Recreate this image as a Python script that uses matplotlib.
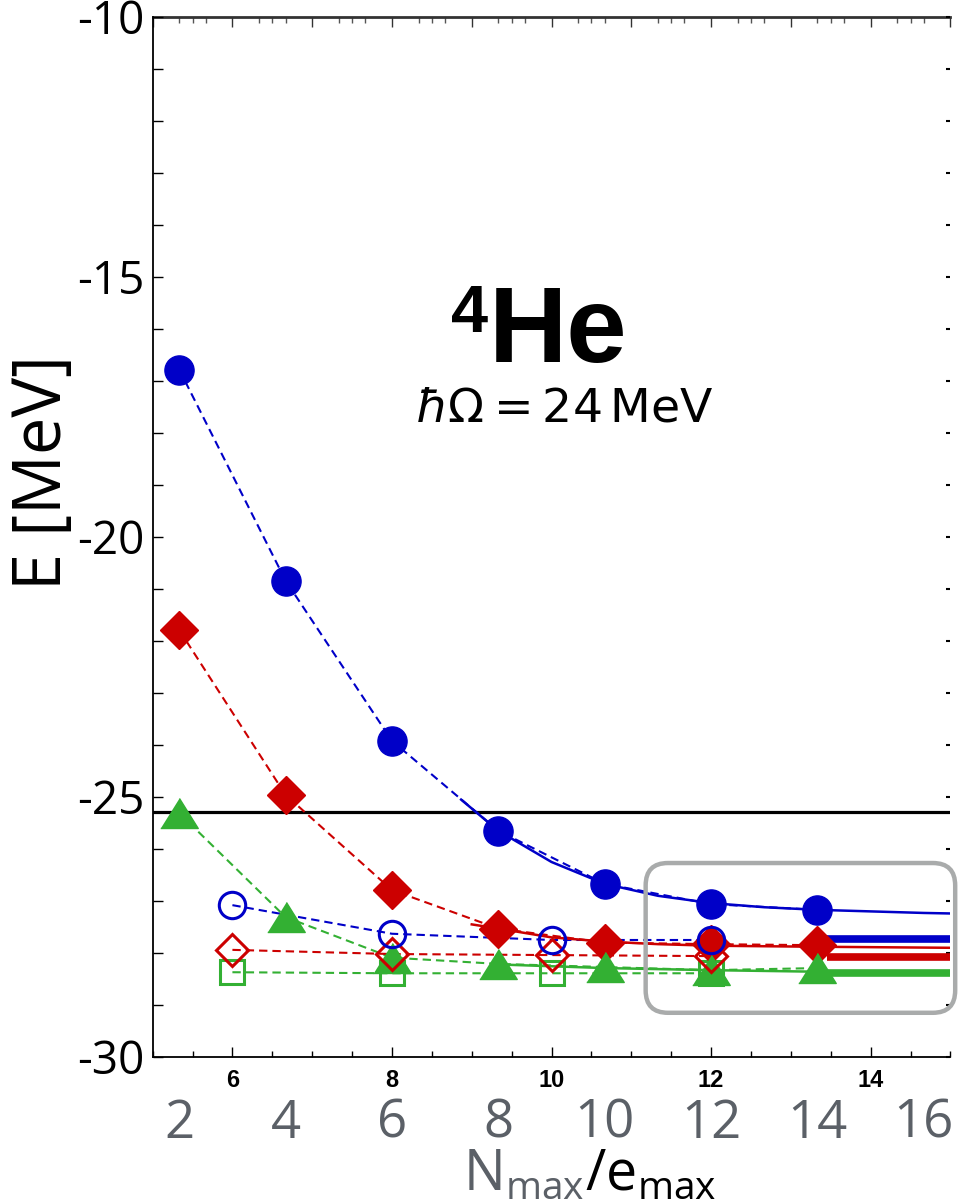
import matplotlib
matplotlib.use("Agg")
import matplotlib.pyplot as plt
from matplotlib.patches import FancyBboxPatch
from matplotlib.offsetbox import TextArea, HPacker, AnchoredOffsetbox
from matplotlib.ticker import MultipleLocator, FixedLocator, NullFormatter

# filled symbols: vs Nmax (bottom grey scale)
nmax = [2, 4, 6, 8, 10, 12, 14]
e_circle = [-16.78, -20.84, -23.92, -25.65, -26.67, -27.06, -27.17]
e_diamond = [-21.79, -24.96, -26.79, -27.53, -27.80, -27.83, -27.85]
e_triangle = [-25.31, -27.31, -28.09, -28.21, -28.27, -28.33, -28.29]

# open symbols: vs emax (inner black scale)
emax = [6, 8, 10, 12]
e_open_circle = [-27.08, -27.63, -27.75, -27.75]
e_open_diamond = [-27.94, -28.02, -28.04, -28.06]
e_open_square = [-28.37, -28.39, -28.39, -28.39]

# extrapolation curves (in Nmax)
fit_n_blue = [7.3, 8, 9, 10, 11, 12, 13, 14, 15, 16, 16.5]
fit_e_blue = [-25.05, -25.65, -26.25, -26.67, -26.90, -27.04, -27.12, -27.17, -27.20, -27.23, -27.24]
fit_n_red = [7.5, 8, 9, 10, 11, 12, 14, 16.5]
fit_e_red = [-27.45, -27.53, -27.70, -27.78, -27.83, -27.86, -27.88, -27.90]
fit_n_green = [8, 10, 12, 14, 16.5]
fit_e_green = [-28.22, -28.29, -28.33, -28.36, -28.38]

# extrapolated values (thick bars) and reference line
bar_e = [-27.74, -28.07, -28.39]
ref_e = -25.29

nmax_ticks = [2, 4, 6, 8, 10, 12, 14, 16]
emax_ticks = [6, 8, 10, 12, 14]

BLUE = "#0000c8"
RED = "#cc0000"
GREEN = "#33b033"
GREY = "#5b6067"


def n_to_x(n):
    return 4 + 2 * n / 3.0


def x_to_n(x):
    return (x - 4) * 1.5


plt.rcParams['font.family'] = ['Open Sans', 'DejaVu Sans']

fig = plt.figure(figsize=(9.6, 12.04), dpi=100)
ax = fig.add_axes([0.159, 0.1221, 0.831, 0.8638])

dash = dict(ls=(0, (4, 2.4)), lw=1.5)

# dashed connections
xs = [n_to_x(n) for n in nmax]
ax.plot(xs, e_circle, color=BLUE, zorder=2, **dash)
ax.plot(xs, e_diamond, color=RED, zorder=2, **dash)
ax.plot(xs, e_triangle, color=GREEN, zorder=2, **dash)
ax.plot(emax, e_open_circle, color=BLUE, zorder=2, **dash)
ax.plot(emax, e_open_diamond, color=RED, zorder=2, **dash)
ax.plot(emax, e_open_square, color=GREEN, zorder=2, **dash)

# solid extrapolation curves
ax.plot([n_to_x(n) for n in fit_n_blue], fit_e_blue, color=BLUE, lw=1.8, zorder=2)
ax.plot([n_to_x(n) for n in fit_n_red], fit_e_red, color=RED, lw=1.8, zorder=2)
ax.plot([n_to_x(n) for n in fit_n_green], fit_e_green, color=GREEN, lw=1.8, zorder=2)

# thick bars
ax.hlines(bar_e, 13.45, 15, colors=[BLUE, RED, GREEN], lw=5.5, zorder=2)

ax.axhline(ref_e, color="black", lw=2.3, zorder=1)

# markers
tri = [(-1, -0.8), (1, -0.8), (0, 0.8)]
ax.plot(emax, e_open_square, ls="none", marker="s", ms=17, mfc="none", mec=GREEN, mew=2.2, zorder=3)
ax.plot(xs, e_circle, ls="none", marker="o", ms=21, color=BLUE, zorder=4)
ax.plot(xs, e_diamond, ls="none", marker="D", ms=19, color=RED, zorder=4)
ax.plot(xs, e_triangle, ls="none", marker=tri, ms=27, color=GREEN, zorder=4)
ax.plot(emax, e_open_diamond, ls="none", marker="D", ms=16.5, mfc="none", mec=RED, mew=2.2, zorder=5)
ax.plot(emax, e_open_circle, ls="none", marker="o", ms=19, mfc="none", mec=BLUE, mew=2.2, zorder=5)

# rounded box around the converged region
box = FancyBboxPatch((11.18, -29.15), 3.88, 2.88,
                     boxstyle="round,pad=0,rounding_size=0.28",
                     mutation_aspect=80 / 52.0, ec="#a9abab", fc="none",
                     lw=3.2, clip_on=False, zorder=6)
ax.add_patch(box)

ax.set_xlim(5, 15)
ax.set_ylim(-30, -10)

# y axis
ax.yaxis.set_major_locator(MultipleLocator(5))
ax.yaxis.set_minor_locator(MultipleLocator(1))
ax.tick_params(axis="y", which="both", direction="in", length=7, width=1,
               labelsize=33, pad=6)
ax.set_yticks([-30, -25, -20, -15, -10])
ax.set_yticklabels(["-30", "-25", "-20", "-15", "-10"])

# inner emax axis
ax.xaxis.set_major_locator(FixedLocator(emax_ticks))
ax.xaxis.set_minor_locator(MultipleLocator(0.5))
ax.tick_params(axis="x", which="major", direction="in", length=7, width=1, pad=9)
ax.tick_params(axis="x", which="minor", direction="in", length=4, width=1)
for lab in ax.get_xticklabels():
    lab.set_family(["Liberation Sans", "DejaVu Sans"])
    lab.set_fontweight("bold")
    lab.set_fontsize(17)

# top ticks
top = ax.secondary_xaxis("top")
top.xaxis.set_major_locator(MultipleLocator(1))
top.xaxis.set_minor_locator(FixedLocator([k + f for k in range(5, 15) for f in (1 / 3.0, 0.5, 2 / 3.0)]))
top.xaxis.set_major_formatter(NullFormatter())
top.tick_params(which="major", direction="in", length=7, width=1, color="#333333")
top.tick_params(which="minor", direction="in", length=4, width=1, color="#555555")
top.spines["top"].set_linewidth(2)
top.spines["top"].set_color("#333333")

# right ticks
right = ax.secondary_yaxis("right")
right.yaxis.set_major_locator(MultipleLocator(1))
right.yaxis.set_major_formatter(NullFormatter())
right.tick_params(direction="in", length=3, width=1.5)
right.spines["right"].set_visible(False)

ax.spines["right"].set_visible(False)
ax.spines["top"].set_visible(False)
for s in ("left", "bottom"):
    ax.spines[s].set_linewidth(1.3)

# Nmax scale under the emax labels
sec = ax.secondary_xaxis("bottom", functions=(x_to_n, n_to_x))
sec.set_xticks(nmax_ticks)
sec.tick_params(length=0, pad=29, labelsize=38, labelcolor=GREY)
sec.spines["bottom"].set_visible(False)

# axis titles
ax.text(-0.137, 0.5615, "E [MeV]", transform=ax.transAxes, rotation=90,
        ha="center", va="center", fontsize=48)

parts = HPacker(children=[
    TextArea(r"$\mathregular{N_{max}}$", textprops=dict(color=GREY, fontsize=40)),
    TextArea(r"$\mathregular{/e_{max}}$", textprops=dict(color="black", fontsize=40)),
], align="baseline", pad=0, sep=0)
ab = AnchoredOffsetbox(loc="center", child=parts, pad=0, borderpad=0, frameon=False,
                       bbox_to_anchor=(0.548, -0.114), bbox_transform=ax.transAxes)
ax.add_artist(ab)

# nucleus and oscillator frequency
ax.text(0.421, 0.668, "He", transform=ax.transAxes, ha="left", va="baseline",
        fontsize=78, fontweight="bold", family=["Liberation Sans", "DejaVu Sans"])
ax.text(0.421, 0.697, "4", transform=ax.transAxes, ha="right", va="baseline",
        fontsize=48, fontweight="bold", family=["Liberation Sans", "DejaVu Sans"])
ax.text(0.5157, 0.6106, r"$\hbar\Omega = 24\,\mathrm{MeV}$", transform=ax.transAxes,
        ha="center", va="baseline", fontsize=34, family=["DejaVu Sans"])

fig.savefig("out.png", dpi=100)
